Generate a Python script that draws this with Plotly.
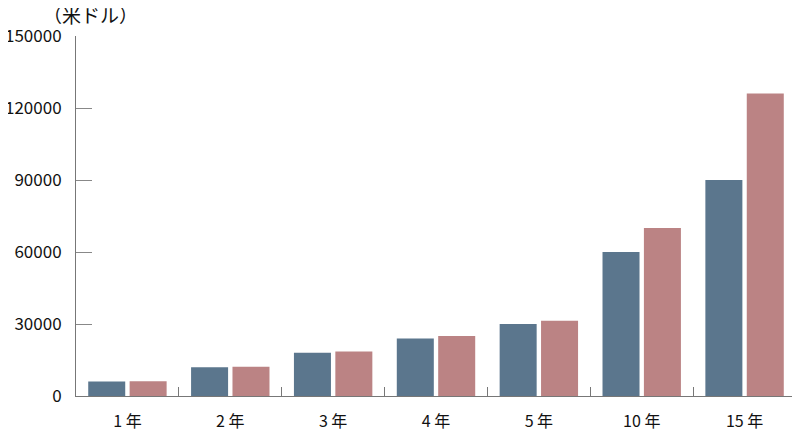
import plotly.graph_objects as go

categories = ["1 年", "2 年", "3 年", "4 年", "5 年", "10 年", "15 年"]
series_a = [6000, 12000, 18000, 24000, 30000, 60000, 90000]
series_b = [6100, 12200, 18500, 25000, 31400, 70000, 126000]
y_ticks = [0, 30000, 60000, 90000, 120000, 150000]

FONT = "Noto Sans CJK JP"
fig = go.Figure()
fig.add_trace(go.Bar(x=categories, y=series_a, marker_color="#5b768d", marker_line_width=0, name="A"))
fig.add_trace(go.Bar(x=categories, y=series_b, marker_color="#bb8384", marker_line_width=0, name="B"))

# page body has an 8px margin, so the figure is offset by 8px in the window
fig.update_layout(
    width=792, height=430,
    margin=dict(l=68, r=4, t=28, b=42),
    plot_bgcolor="white", paper_bgcolor="white",
    barmode="group", bargap=0.195, bargroupgap=0.106,
    showlegend=False,
    font=dict(family=FONT, size=17, color="#111"),
    annotations=[dict(text="（米ドル）", x=0, y=1, xref="paper", yref="paper",
                      xshift=-35, yshift=21.5, xanchor="left", yanchor="middle",
                      showarrow=False, font=dict(family=FONT, size=19, color="#111"))],
)
fig.update_yaxes(range=[0, 150000], tickvals=y_ticks, ticktext=[str(v) for v in y_ticks],
                 showgrid=False, zeroline=False, showline=True, linecolor="#777", linewidth=1,
                 ticks="inside", ticklen=16, tickcolor="#888", tickwidth=1, automargin=False,
                 ticklabelstandoff=10, tickfont=dict(family=FONT, size=17, color="#111"))
fig.update_xaxes(showgrid=False, showline=True, linecolor="#777", linewidth=1,
                 ticks="inside", ticklen=9, tickcolor="#777", tickson="boundaries", automargin=False,
                 ticklabelstandoff=11, tickfont=dict(family=FONT, size=16, color="#111"))

fig.write_html("out.html")
